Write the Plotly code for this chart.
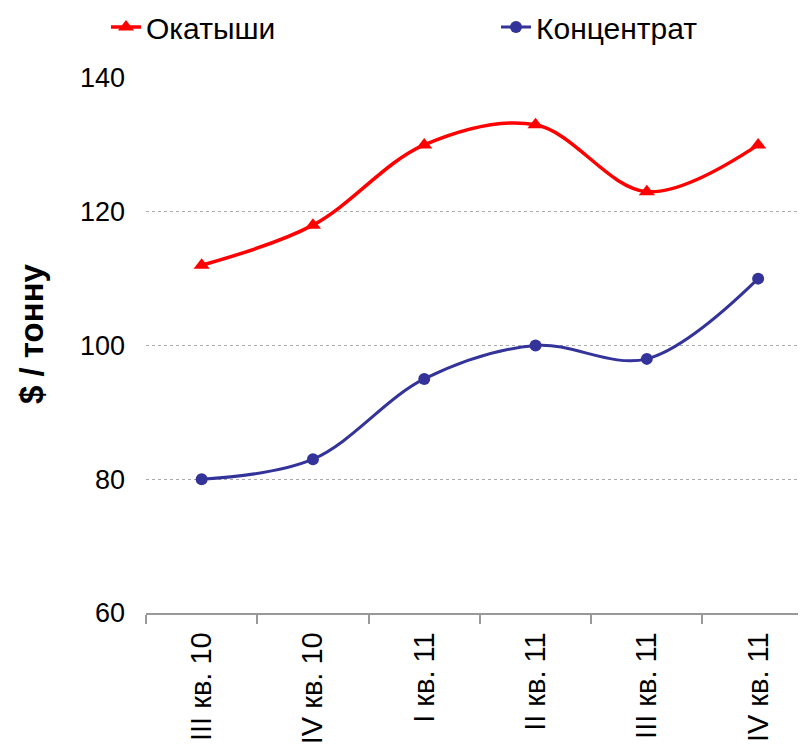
import plotly.graph_objects as go

quarters = ["III кв. 10", "IV кв. 10", "I кв. 11", "II кв. 11", "III кв. 11", "IV кв. 11"]
pellets = [112, 118, 130, 133, 123, 130]
concentrate = [80, 83, 95, 100, 98, 110]

FONT = "Liberation Sans, Arial, sans-serif"
# page body has an 8px margin, so the figure is sized to fill the rest of the window
W, H = 798, 743

fig = go.Figure()
fig.add_trace(
    go.Scatter(
        x=quarters,
        y=pellets,
        name="Окатыши",
        mode="lines+markers",
        line=dict(color="#FF0000", width=3.5, shape="spline", smoothing=1.0),
        marker=dict(symbol="triangle-up", size=14, color="#FF0000"),
        legend="legend",
    )
)
fig.add_trace(
    go.Scatter(
        x=quarters,
        y=concentrate,
        name="Концентрат",
        mode="lines+markers",
        line=dict(color="#333399", width=3, shape="spline", smoothing=1.0),
        marker=dict(symbol="circle", size=12, color="#333399"),
        legend="legend2",
    )
)

fig.update_xaxes(
    type="category",
    range=[-0.5, 5.43],
    tickson="boundaries",
    ticks="outside",
    ticklen=9,
    tickcolor="#999999",
    tickwidth=1.5,
    showline=True,
    linecolor="#999999",
    linewidth=1.5,
    showgrid=False,
    automargin=False,
    tickangle=-90,
    ticklabelstandoff=6,
    tickfont=dict(family=FONT, size=29, color="black"),
)
fig.update_yaxes(
    range=[60, 140],
    tickvals=[60, 80, 100, 120, 140],
    showgrid=True,
    gridcolor="#aaaaaa",
    griddash="dot",
    gridwidth=1,
    zeroline=False,
    showline=False,
    automargin=False,
    ticklabelstandoff=20,
    tickfont=dict(family=FONT, size=27, color="black"),
)

fig.add_annotation(
    text="<b>$ / тонну</b>",
    xref="paper",
    yref="paper",
    x=(31 - 146) / 660,
    y=(613 - 333) / 535,
    xanchor="center",
    yanchor="middle",
    textangle=-90,
    showarrow=False,
    font=dict(family=FONT, size=33, color="black"),
)

legend_style = dict(
    orientation="h",
    xref="container",
    yref="container",
    xanchor="left",
    yanchor="middle",
    y=1 - 19 / H,
    font=dict(family=FONT, size=30, color="black"),
)

fig.update_layout(
    width=W,
    height=H,
    margin=dict(l=138, r=0, t=70, b=138, autoexpand=False),
    paper_bgcolor="white",
    plot_bgcolor="white",
    showlegend=True,
    legend=dict(x=98 / W, **legend_style),
    legend2=dict(x=488 / W, **legend_style),
)

fig.write_html("out.html")
